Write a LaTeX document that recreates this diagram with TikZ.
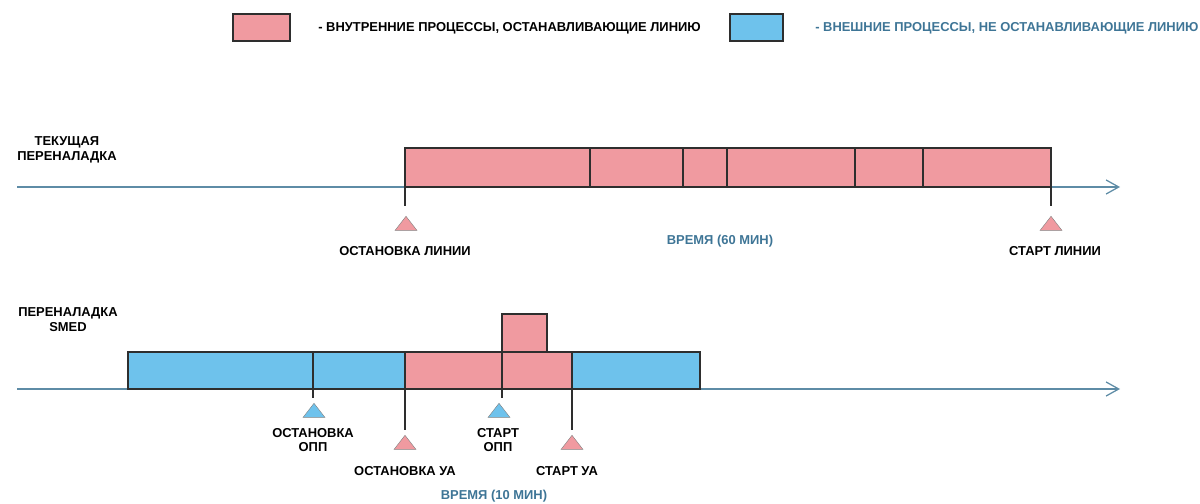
\documentclass[tikz,border=0pt]{standalone}
\usepackage{fontspec}
\setmainfont{Liberation Sans}
\usetikzlibrary{arrows.meta, shapes.geometric}
\definecolor{inner}{HTML}{F09AA0}
\definecolor{outer}{HTML}{6EC2EC}
\definecolor{axis}{HTML}{5E8CA6}
\definecolor{timetext}{HTML}{3E7596}
\definecolor{edge}{HTML}{2E2E2E}

\tikzset{
  lbl/.style={font=\bfseries\fontsize{9.2}{10.6}\selectfont, align=center, inner sep=0pt},
  timeaxis/.style={draw=axis, line width=0.8pt, -{Straight Barb[length=9pt, width=10pt, line width=0.9pt]}},
  seg/.style={draw=edge, line width=0.9pt},
  tick/.style={draw=edge, line width=0.9pt},
  mark tri/.style={isosceles triangle, shape border rotate=90, isosceles triangle stretches,
    minimum width=15.5pt, minimum height=10pt, inner sep=0pt, draw=edge!60, line width=0.3pt},
}

\begin{document}
\begin{tikzpicture}[x=0.025cm, y=-0.025cm]
   \useasboundingbox (0,0) rectangle (1200,504);

   % legend
   \draw[seg, fill=inner] (233,14) rectangle (290,41);
   \node[lbl, anchor=west] (leg_in) at (318,28) {- ВНУТРЕННИЕ ПРОЦЕССЫ, ОСТАНАВЛИВАЮЩИЕ ЛИНИЮ};
   \draw[seg, fill=outer] (730,14) rectangle (783,41);
   \node[lbl, anchor=west, text=timetext] (leg_out) at (815,28) {- ВНЕШНИЕ ПРОЦЕССЫ, НЕ ОСТАНАВЛИВАЮЩИЕ ЛИНИЮ};

   % current changeover
   \node[lbl] (cur) at (67,150) {ТЕКУЩАЯ\\ПЕРЕНАЛАДКА};
   \coordinate (a_start) at (17,187);
   \coordinate (a_end) at (1120,187);
   \draw[timeaxis] (a_start) -- (a_end);
   \foreach \a/\b in {405/590, 590/683, 683/727, 727/855, 855/923, 923/1051}
      \draw[seg, fill=inner] (\a,148) rectangle (\b,187);

   \node[mark tri, fill=inner] (stop_line) at (406,225) {};
   \node[mark tri, fill=inner] (start_line) at (1051,225) {};
   \coordinate (t1) at (405,187);
   \coordinate (t2) at (1051,187);
   \draw[tick] (t1) -- ++(0,19);
   \draw[tick] (t2) -- ++(0,19);
   \node[lbl] at (405,251) (stop_line_l) {ОСТАНОВКА ЛИНИИ};
   \node[lbl] at (1055,251) (start_line_l) {СТАРТ ЛИНИИ};
   \node[lbl, text=timetext] at (720,241) (time60) {ВРЕМЯ (60 МИН)};

   % SMED changeover
   \node[lbl] (smed) at (68,320) {ПЕРЕНАЛАДКА\\SMED};
   \coordinate (b_start) at (17,389);
   \coordinate (b_end) at (1120,389);
   \draw[timeaxis] (b_start) -- (b_end);
   \foreach \a/\b/\c in {128/313/outer, 313/405/outer, 405/502/inner, 502/572/inner, 572/700/outer}
      \draw[seg, fill=\c] (\a,352) rectangle (\b,389);
   \draw[seg, fill=inner] (502,314) rectangle (547,352);

   \coordinate (s1) at (313,389);
   \coordinate (s2) at (405,389);
   \coordinate (s3) at (502,389);
   \coordinate (s4) at (572,389);
   \draw[tick] (s1) -- ++(0,9);
   \draw[tick] (s2) -- ++(0,41);
   \draw[tick] (s3) -- ++(0,9);
   \draw[tick] (s4) -- ++(0,41);
   \node[mark tri, fill=outer] (stop_opp) at (314,412) {};
   \node[mark tri, fill=outer] (start_opp) at (499,412) {};
   \node[mark tri, fill=inner] (stop_ua) at (405,444) {};
   \node[mark tri, fill=inner] (start_ua) at (572,444) {};
   \node[lbl] at (313,440) (stop_opp_l) {ОСТАНОВКА\\ОПП};
   \node[lbl] at (498,440) (start_opp_l) {СТАРТ\\ОПП};
   \node[lbl] at (405,471) (stop_ua_l) {ОСТАНОВКА УА};
   \node[lbl] at (567,471) (start_ua_l) {СТАРТ УА};
   \node[lbl, text=timetext] at (494,496) (time10) {ВРЕМЯ (10 МИН)};
\end{tikzpicture}
\end{document}
